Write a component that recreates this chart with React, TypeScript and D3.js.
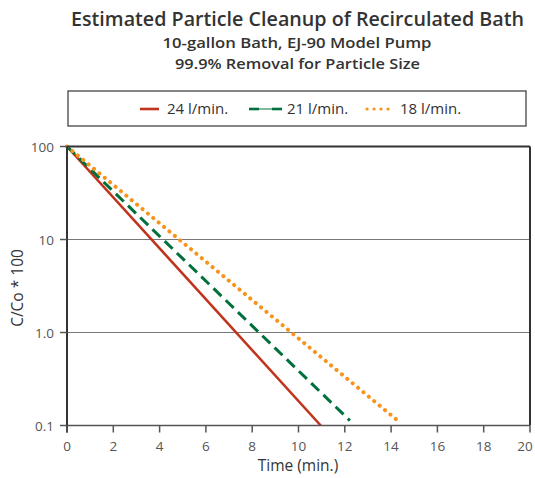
import React from "react";
import * as d3 from "d3";

const width = 535;
const height = 478;
const margin = { top: 146.5, right: 5, bottom: 52.5, left: 67 };

const titleLines = [
  "Estimated Particle Cleanup of Recirculated Bath",
  "10-gallon Bath, EJ-90 Model Pump",
  "99.9% Removal for Particle Size",
];

const seriesNames = ["24 l/min.", "21 l/min.", "18 l/min."];
const seriesColors = ["#c0341d", "#00703c", "#f7941d"];
// [time, C/Co*100] pairs
const red24 = [
  [0, 100],
  [10.96, 0.1],
];
const green21 = [
  [0, 100],
  [12.22, 0.113],
];
const orange18 = [
  [0, 100],
  [14.21, 0.117],
];
const xTicks = [0, 2, 4, 6, 8, 10, 12, 14, 16, 18, 20];
const yTicks = [100, 10, 1, 0.1];
const yTickLabels = ["100", "10", "1.0", "0.1"];

const font = "'Open Sans', sans-serif";

const App = () => {
  const x = d3
    .scaleLinear()
    .domain([0, 20])
    .range([margin.left, width - margin.right]);
  const y = d3
    .scaleLog()
    .domain([0.1, 100])
    .range([height - margin.bottom, margin.top]);

  const line = d3
    .line<number[]>()
    .x((d) => x(d[0]))
    .y((d) => y(d[1]));

  const styles = [
    { dash: "none", w: 2.6, cap: "butt" },
    { dash: "11 6", w: 3, cap: "butt" },
    { dash: "0.1 6.9", w: 4, cap: "round" },
  ];
  const series = [red24, green21, orange18];

  const legendItems = [
    { x1: 140, x2: 159, tx: 167 },
    { x1: 249, x2: 282, tx: 287 },
    { x1: 367, x2: 391, tx: 400 },
  ];

  return (
    <svg width={width} height={height} style={{ position: "absolute", left: 0, top: 0 }}>
      <rect width={width} height={height} fill="#fff" />

      {/* titles */}
      <g fontFamily={font} fill="#333" textAnchor="middle">
        <text x={297.5} y={26} fontSize={20} fontWeight={600} textLength={453} lengthAdjust="spacingAndGlyphs">
          {titleLines[0]}
        </text>
        <text x={297} y={48} fontSize={14.5} fontWeight={600} textLength={269} lengthAdjust="spacingAndGlyphs">
          {titleLines[1]}
        </text>
        <text x={297.5} y={68.5} fontSize={14.5} fontWeight={600} textLength={245} lengthAdjust="spacingAndGlyphs">
          {titleLines[2]}
        </text>
      </g>

      {/* legend */}
      <rect x={68} y={91} width={458} height={35} fill="none" stroke="#444" strokeWidth={1.3} />
      {legendItems.map((it, i) => (
        <g key={i}>
          {i === 1 ? (
            <g>
              <line x1={it.x1} x2={it.x2} y1={109} y2={109} stroke={seriesColors[i]} strokeWidth={1} />
              <line x1={it.x1} x2={it.x1 + 10} y1={109} y2={109} stroke={seriesColors[i]} strokeWidth={2.6} />
              <line x1={it.x2 - 10} x2={it.x2} y1={109} y2={109} stroke={seriesColors[i]} strokeWidth={2.6} />
            </g>
          ) : (
            <line
              x1={it.x1}
              x2={it.x2}
              y1={109}
              y2={109}
              stroke={seriesColors[i]}
              strokeWidth={styles[i].w - (i === 2 ? 0.8 : 0)}
              strokeDasharray={styles[i].dash}
              strokeLinecap={styles[i].cap as any}
            />
          )}
          <text x={it.tx} y={114} fontFamily={font} fontSize={15} fill="#333">
            {seriesNames[i]}
          </text>
        </g>
      ))}

      {/* grid */}
      {[10, 1].map((v) => (
        <line
          key={v}
          x1={x(0)}
          x2={x(20)}
          y1={y(v)}
          y2={y(v)}
          stroke="#777"
          strokeWidth={1}
        />
      ))}

      {/* series */}
      {series.map((s, i) => (
        <path
          key={i}
          d={line(s) || ""}
          fill="none"
          stroke={seriesColors[i]}
          strokeWidth={styles[i].w}
          strokeDasharray={styles[i].dash}
          strokeLinecap={styles[i].cap as any}
        />
      ))}

      {/* frame */}
      <line x1={x(0)} x2={x(20)} y1={y(100)} y2={y(100)} stroke="#333" strokeWidth={2} />
      <line x1={x(20)} x2={x(20)} y1={y(100)} y2={y(0.1)} stroke="#333" strokeWidth={2} />
      <line x1={x(0)} x2={x(20)} y1={y(0.1)} y2={y(0.1)} stroke="#555" strokeWidth={1.5} />
      <line x1={x(0)} x2={x(0)} y1={y(100)} y2={y(0.1) + 7} stroke="#333" strokeWidth={2} />

      {/* x ticks */}
      {xTicks.map((t) => (
        <g key={t}>
          <line x1={x(t)} x2={x(t)} y1={y(0.1)} y2={y(0.1) + 7} stroke="#555" strokeWidth={1.5} />
          <text
            x={Math.min(x(t), width - 10)}
            y={y(0.1) + 25}
            textAnchor="middle"
            fontFamily={font}
            fontSize={13.5}
            fill="#555"
          >
            {t}
          </text>
        </g>
      ))}

      {/* y ticks */}
      {yTicks.map((t, i) => (
        <g key={t}>
          <line x1={x(0) - 7} x2={x(0)} y1={y(t)} y2={y(t)} stroke="#555" strokeWidth={1.5} />
          <text
            x={x(0) - 13}
            y={y(t) + 5}
            textAnchor="end"
            fontFamily={font}
            fontSize={13.5}
            fill="#555"
          >
            {yTickLabels[i]}
          </text>
        </g>
      ))}

      {/* axis titles */}
      <text
        x={298}
        y={471}
        textAnchor="middle"
        fontFamily={font}
        fontSize={15.5}
        fill="#333"
      >
        Time (min.)
      </text>
      <text
        transform={`translate(23,288) rotate(-90)`}
        textAnchor="middle"
        fontFamily={font}
        fontSize={15.5}
        fill="#333"
      >
        C/Co * 100
      </text>
    </svg>
  );
};

export default App;
